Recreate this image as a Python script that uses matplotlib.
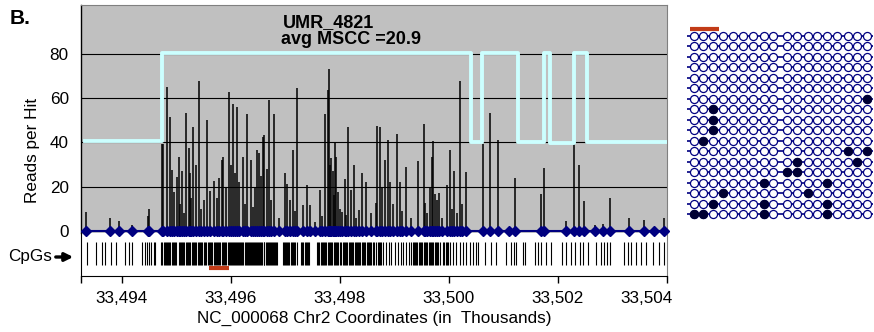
import numpy as np
import matplotlib.pyplot as plt
from matplotlib.transforms import ScaledTranslation

plt.rcParams['font.family'] = ['Liberation Sans', 'DejaVu Sans']

# hit positions (thousands) and reads per hit
hit_x = [33493.349, 33493.788, 33493.953, 33494.186, 33494.484, 33494.503, 33494.735, 33494.765,
         33494.838, 33494.887, 33494.918, 33494.961, 33495.010, 33495.052, 33495.070, 33495.102,
         33495.140, 33495.175, 33495.230, 33495.254, 33495.280, 33495.303, 33495.358, 33495.418,
         33495.450, 33495.516, 33495.571, 33495.620, 33495.688, 33495.743, 33495.790, 33495.834,
         33495.864, 33495.920, 33495.962, 33496.000, 33496.036, 33496.078, 33496.120, 33496.150,
         33496.219, 33496.260, 33496.292, 33496.365, 33496.402, 33496.440, 33496.475, 33496.523,
         33496.550, 33496.585, 33496.614, 33496.660, 33496.706, 33496.740, 33496.792, 33496.880,
         33496.994, 33497.036, 33497.085, 33497.135, 33497.180, 33497.226, 33497.329, 33497.402,
         33497.464, 33497.550, 33497.635, 33497.684, 33497.739, 33497.781, 33497.800, 33497.820,
         33497.849, 33497.878, 33497.890, 33497.909, 33497.940, 33497.970, 33498.000, 33498.050,
         33498.093, 33498.120, 33498.153, 33498.215, 33498.257, 33498.300, 33498.349, 33498.417,
         33498.490, 33498.580, 33498.660, 33498.684, 33498.734, 33498.780, 33498.825, 33498.886,
         33498.929, 33498.980, 33499.058, 33499.100, 33499.150, 33499.223, 33499.300, 33499.439,
         33499.539, 33499.567, 33499.600, 33499.649, 33499.686, 33499.708, 33499.741, 33499.780,
         33499.818, 33499.880, 33499.961, 33500.016, 33500.050, 33500.094, 33500.150, 33500.199,
         33500.250, 33500.309, 33500.625, 33500.748, 33500.908, 33501.110, 33501.206, 33501.695,
         33501.750, 33502.140, 33502.287, 33502.378, 33502.475, 33502.671, 33502.823, 33502.946,
         33503.312, 33503.587, 33503.770, 33503.940]
hit_reads = [8.7, 5.7, 4.5, 2.5, 6.5, 10.0, 39.5, 39.5,
             65.0, 51.5, 27.6, 17.8, 24.4, 33.4, 12.0, 27.0,
             8.0, 53.5, 37.4, 26.0, 15.0, 46.9, 30.0, 67.9,
             10.0, 14.0, 50.0, 18.0, 22.5, 15.0, 24.0, 32.0,
             33.5, 20.0, 62.6, 30.0, 57.6, 26.0, 56.0, 22.0,
             33.5, 12.0, 53.0, 32.0, 11.0, 20.0, 36.5, 35.0,
             25.0, 42.5, 43.5, 28.0, 59.0, 14.0, 53.0, 6.0,
             26.0, 21.4, 14.0, 36.5, 9.0, 64.5, 11.9, 20.9,
             11.9, 4.0, 18.6, 6.5, 53.0, 63.8, 73.0, 30.0,
             33.0, 27.0, 16.0, 40.0, 33.5, 17.5, 10.0, 8.6,
             23.5, 7.0, 47.0, 18.6, 30.0, 6.0, 9.5, 26.0,
             22.3, 8.0, 12.8, 47.5, 46.9, 20.0, 32.0, 41.0,
             22.3, 12.0, 44.0, 22.3, 9.0, 29.0, 6.0, 31.8,
             48.5, 12.8, 8.0, 20.0, 33.5, 40.5, 16.7, 14.0,
             17.0, 6.0, 20.9, 36.6, 10.0, 27.1, 8.0, 67.6,
             12.0, 26.6, 39.1, 53.2, 41.2, 0.0, 24.1, 16.6,
             28.4, 4.6, 39.7, 30.0, 13.5, 2.7, 3.0, 14.8,
             5.7, 5.0, 0.0, 5.7]

# MSCC step line
step_x = [33493.33, 33494.74, 33500.40, 33500.60, 33501.27, 33501.74, 33501.86, 33502.29, 33502.53, 33504.0]
step_y = [40.5, 80.6, 40.3, 80.6, 40.3, 80.6, 39.7, 80.6, 40.3, 40.3]

# CpG positions (thousands)
cpg_x = [33493.373, 33493.538, 33493.642, 33493.703, 33493.813, 33493.904, 33494.057, 33494.130,
         33494.197, 33494.374, 33494.423, 33494.466, 33494.502, 33494.545, 33494.594, 33494.618,
         33494.725, 33494.748, 33494.772, 33494.790, 33494.815, 33494.838, 33494.851, 33494.874,
         33494.896, 33494.921, 33494.940, 33494.962, 33494.985, 33495.006,
         33495.045, 33495.066, 33495.088, 33495.112, 33495.130, 33495.151, 33495.177, 33495.199,
         33495.218, 33495.243, 33495.262, 33495.288, 33495.305, 33495.329, 33495.351, 33495.372,
         33495.398, 33495.417, 33495.441, 33495.463, 33495.480, 33495.505, 33495.528, 33495.549,
         33495.585, 33495.603, 33495.627, 33495.640, 33495.664, 33495.690, 33495.705, 33495.728,
         33495.751, 33495.770, 33495.792, 33495.811, 33495.838, 33495.857, 33495.879, 33495.903,
         33495.921, 33495.944, 33495.966,
         33495.985, 33496.004, 33496.021, 33496.043, 33496.060, 33496.082, 33496.101, 33496.119,
         33496.140, 33496.158, 33496.181, 33496.199, 33496.214, 33496.236, 33496.255, 33496.277,
         33496.293, 33496.315, 33496.331, 33496.350, 33496.372, 33496.390, 33496.411, 33496.428,
         33496.449, 33496.468, 33496.487, 33496.506, 33496.524, 33496.543, 33496.566, 33496.583,
         33496.604, 33496.621, 33496.640, 33496.662, 33496.681, 33496.700, 33496.718, 33496.739,
         33496.757, 33496.776, 33496.798, 33496.815, 33496.838, 33496.855,
         33496.952, 33496.970, 33496.992, 33497.013, 33497.037, 33497.055, 33497.078, 33497.101,
         33497.119, 33497.142, 33497.163, 33497.189, 33497.212,
         33497.290, 33497.310, 33497.335, 33497.356, 33497.379, 33497.401, 33497.425, 33497.446,
         33497.580, 33497.601, 33497.622, 33497.648, 33497.669, 33497.690, 33497.711, 33497.735,
         33497.752, 33497.779, 33497.797, 33497.820, 33497.841, 33497.866, 33497.888, 33497.909,
         33497.932, 33497.951, 33497.970,
         33498.010, 33498.031, 33498.055, 33498.074, 33498.098, 33498.121, 33498.140, 33498.163,
         33498.188, 33498.205, 33498.229, 33498.250, 33498.272, 33498.296, 33498.315, 33498.338,
         33498.361, 33498.380, 33498.405, 33498.428, 33498.449, 33498.470, 33498.494, 33498.515,
         33498.539, 33498.559,
         33498.580, 33498.605, 33498.630, 33498.672, 33498.693, 33498.715, 33498.738, 33498.762,
         33498.794, 33498.855, 33498.904, 33498.947, 33499.008, 33499.069, 33499.130, 33499.160,
         33499.222, 33499.270, 33499.313, 33499.335, 33499.358, 33499.380, 33499.402, 33499.425,
         33499.447, 33499.470, 33499.492, 33499.515, 33499.538, 33499.560, 33499.582, 33499.605,
         33499.628, 33499.650, 33499.672, 33499.695, 33499.718, 33499.740, 33499.762, 33499.785,
         33499.808, 33499.832, 33499.893, 33499.915, 33499.940, 33499.962, 33499.985, 33500.015,
         33500.076, 33500.137, 33500.198, 33500.259, 33500.320, 33500.381, 33500.443, 33500.491,
         33500.534,
         33500.656, 33500.778, 33500.870, 33501.053, 33501.145, 33501.187, 33501.236, 33501.358,
         33501.389, 33501.584, 33501.633, 33501.694, 33501.773, 33501.877, 33502.079, 33502.152,
         33502.244, 33502.305, 33502.396, 33502.457, 33502.549, 33502.701, 33502.793, 33502.854,
         33502.897, 33502.946, 33503.220, 33503.281, 33503.342, 33503.434, 33503.526, 33503.617,
         33503.751, 33503.861, 33503.953]

# bisulfite amplicon
amplicon = [33495.61, 33495.97]

y_ticks = [0, 20, 40, 60, 80]
x_ticks = [33494, 33496, 33498, 33500, 33502, 33504]
x_labels = ['33,494', '33,496', '33,498', '33,500', '33,502', '33,504']

# methylation diagram (pixel layout of right panel)
meth_cols = [694, 703.3, 712.7, 722.7, 732.7, 742.7, 752.7, 764, 773.3,
             787.3, 796.7, 808.3, 817.3, 826.7, 837.3, 848.3, 857.3, 866.7]
meth_rows = [35.7, 46.2, 56.7, 67.2, 77.7, 88.2, 98.7, 109.2, 119.7,
             130.2, 140.7, 151.2, 161.7, 172.2, 182.7, 193.2, 203.7, 214.2]
# methylated CpGs: (row number, column number), 1-based
meth_on_row = [7, 8, 9, 10, 11, 12, 12, 13, 13, 14, 14, 15, 15, 16, 16, 17, 17, 17, 18, 18, 18, 18]
meth_on_col = [18, 3, 3, 3, 2, 16, 18, 11, 17, 10, 11, 8, 14, 4, 12, 3, 8, 14, 1, 2, 8, 14]

W, H = 874, 332
navy = '#000080'
red = '#C23B17'

fig = plt.figure(figsize=(W / 100, H / 100), dpi=100)

def frac(x0, y0, x1, y1):
    # pixel box (top-left origin) -> figure fraction rect
    return [x0 / W, 1 - y1 / H, (x1 - x0) / W, (y1 - y0) / H]

xmin, xmax = 33493.25, 33504.0

ax = fig.add_axes(frac(80.6, 4.5, 667, 233.3))
ax.set_zorder(3)
ax.set_facecolor('#C0C0C0')
ax.set_xlim(xmin, xmax)
ax.set_ylim(-1.1, 102.4)
ax.set_yticks(y_ticks)
ax.set_yticklabels([str(v) for v in y_ticks], fontsize=12.3)
ax.tick_params(axis='y', length=0, pad=8.5)
ax.tick_params(axis='x', bottom=False, labelbottom=False)
for v in y_ticks[1:]:
    ax.axhline(v, color='black', lw=0.8, zorder=1)
for s in ['top', 'right']:
    ax.spines[s].set_color('#808080')
ax.spines['bottom'].set_visible(False)
ax.spines['left'].set_color('black')
ax.spines['left'].set_linewidth(1.0)

ax.vlines(hit_x, 0, hit_reads, color='black', lw=1.1, zorder=2)
ax.plot(step_x, step_y, drawstyle='steps-post', color='#CCFFFF', lw=2.8,
        solid_joinstyle='round', zorder=3)
ax.plot(hit_x + [xmax], [0] * len(hit_x) + [0], color=navy, lw=1.5, zorder=4, clip_on=False)
ax.plot(hit_x, [0] * len(hit_x), ls='none', marker='D', ms=4.6, color=navy, zorder=5, clip_on=False)

ax.text(33497.8, 92.2, 'UMR_4821', ha='center', va='baseline', fontsize=13, fontweight='bold')
ax.text(33498.2, 84.4, 'avg MSCC =20.9', ha='center', va='baseline', fontsize=13, fontweight='bold')

# CpG track
ax2 = fig.add_axes(frac(80.6, 233.3, 667, 275.5), sharex=ax)
ax2.set_zorder(1)
ax2.set_facecolor('white')
ax2.set_ylim(0, 1)
ax2.set_yticks([])
ax2.vlines(cpg_x, 0.237, 0.782, color='black', lw=0.8)
ax2.plot(amplicon, [0.17, 0.17], color=red, lw=3, solid_capstyle='butt')
ax2.spines['top'].set_visible(False)
ax2.spines['right'].set_color('#808080')
ax2.spines['left'].set_color('black')
ax2.spines['bottom'].set_color('black')
ax2.set_xticks(x_ticks)
ax2.set_xticklabels(x_labels, fontsize=12.3)
ax2.set_xticks([xmin], minor=True)
ax2.tick_params(axis='x', which='both', direction='out', length=5, width=1, pad=6)
lab = ax2.get_xticklabels()
lab[-1].set_transform(lab[-1].get_transform() + ScaledTranslation(-0.2, 0, fig.dpi_scale_trans))
ax2.set_xlim(xmin, xmax)

fig.text(10 / W, 1 - 24 / H, 'B.', fontsize=15, fontweight='bold', va='baseline')
fig.text(32 / W, 1 - 150 / H, 'Reads per Hit', rotation=90, ha='center', va='center', fontsize=12.3)
fig.text(374 / W, 1 - 318 / H, 'NC_000068 Chr2 Coordinates (in  Thousands)', ha='center', va='center', fontsize=12.3)
fig.text(8 / W, 1 - 257 / H, 'CpGs', ha='left', va='center', fontsize=12.3)
fig.add_artist(plt.Annotation('', xy=(76 / W, 1 - 257 / H), xytext=(53 / W, 1 - 257 / H),
                              xycoords='figure fraction', textcoords='figure fraction',
                              arrowprops=dict(arrowstyle='-|>', lw=2.4, color='black', mutation_scale=12)))

# methylation panel
ax3 = fig.add_axes(frac(680, 20, 874, 225))
ax3.set_xlim(680, 874)
ax3.set_ylim(225, 20)
ax3.axis('off')
ax3.plot([690, 719], [29, 29], color=red, lw=3, solid_capstyle='butt')
ax3.hlines(meth_rows, 686.5, 873, color=navy, lw=1.2, zorder=1)
gx, gy = np.meshgrid(meth_cols, meth_rows)
ax3.plot(gx.ravel(), gy.ravel(), ls='none', marker='o', ms=5.8, mfc='white', mec=navy, mew=0.9, zorder=2)
on_x = [meth_cols[c - 1] for c in meth_on_col]
on_y = [meth_rows[r - 1] for r in meth_on_row]
ax3.plot(on_x, on_y, ls='none', marker='o', ms=5.8, mfc='#000033', mec='#000033', mew=0.9, zorder=3)

fig.savefig('out.png', dpi=100)
